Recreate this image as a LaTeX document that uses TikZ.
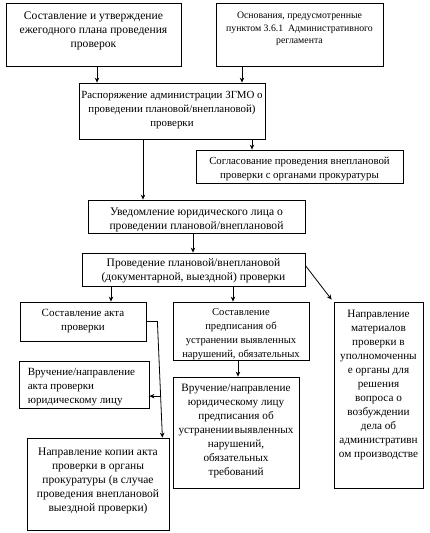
\documentclass[tikz,border=0pt]{standalone}
\usepackage{fontspec}
\setmainfont{Liberation Serif}
\usetikzlibrary{fit,calc,arrows.meta}
\newcommand\fs[1]{\fontsize{#1}{14}\selectfont}
\tikzset{
  box/.style={draw, line width=0.8pt, inner sep=0pt},
  txt/.style={inner sep=0pt, align=center, font=\fs{11.1}},
  txts/.style={inner sep=0pt, align=center, font=\fontsize{9.8}{12.5}\selectfont},
  ln/.style={line width=0.8pt},
  arr/.style={line width=0.8pt, -{Stealth[length=5pt,width=4.5pt]}}
}
\begin{document}
\begin{tikzpicture}[x=1pt,y=-1pt]
\useasboundingbox (0,0) rectangle (429,533);
% boxes
\node[box, fit={(6,3) (181,66)}] (b1) {};
\node[box, fit={(216,3) (383,66)}] (b2) {};
\node[box, fit={(79,83) (265,139)}] (b3) {};
\node[box, fit={(196,150) (403,183)}] (b4) {};
\node[box, fit={(88,200) (305,233)}] (b5) {};
\node[box, fit={(82,253) (305,286)}] (b6) {};
\node[box, fit={(20,302) (146,341)}] (b7) {};
\node[box, fit={(173,302) (309,360)}] (b8) {};
\node[box, fit={(334,302) (423,488)}] (b9) {};
\node[box, fit={(19,361) (149,408)}] (b10) {};
\node[box, fit={(27,438) (169,530)}] (b11) {};
\node[box, fit={(173,377) (299,488)}] (b12) {};
% texts
\node[txt, font=\fs{11.6}, anchor=north] (t1) at ($(b1.north)+(0,9.5)$) {Составление и утверждение\\ежегодного плана проведения\\проверок};
\node[txts, anchor=north] (t2) at ($(b2.north)+(0,9.5)$) {Основания, предусмотренные\\пунктом 3.6.1~ Административного\\регламента};
\node[txt, font=\fs{10.9}, anchor=north] (t3) at ($(b3.north)+(0,8.5)$) {Распоряжение администрации ЗГМО о\\проведении плановой/внеплановой)\\проверки};
\node[txt, font=\fs{10.8}, anchor=north] (t4) at ($(b4.north)+(0,7.5)$) {Согласование проведения внеплановой\\проверки с органами прокуратуры};
\node[txt, font=\fs{11.6}, anchor=north] (t5) at ($(b5.north)+(0,8.5)$) {Уведомление юридического лица о\\проведении плановой/внеплановой};
\node[txt, font=\fs{11.5}, anchor=north] (t6) at ($(b6.north)+(0,6)$) {Проведение плановой/внеплановой\\(документарной, выездной) проверки};
\node[txt, font=\fs{11}, anchor=north] (t7) at ($(b7.north)+(0,7.5)$) {Составление акта\\проверки};
\node[txt, font=\fs{10.6}, anchor=north] (t8) at ($(b8.north)+(0,7)$) {Составление\\предписания об\\устранении выявленных\\нарушений, обязательных};
\node[txt, font=\fs{11.2}, anchor=north] (t9) at ($(b9.north)+(0,8)$) {Направление\\материалов\\проверки в\\уполномоченны\\е органы для\\решения\\вопроса о\\возбуждении\\дела об\\административн\\ом производстве};
\node[txt, font=\fs{11}, anchor=north west, align=left] (t10) at ($(b10.north west)+(9,7.5)$) {Вручение/направление\\акта проверки\\юридическому лицу};
\node[txt, font=\fs{11.5}, anchor=north] (t11) at ($(b11.north)+(0,10)$) {Направление копии акта\\проверки в органы\\прокуратуры (в случае\\проведения внеплановой\\выездной проверки)};
\node[txt, font=\fs{11.2}, anchor=north] (t12) at ($(b12.north)+(0,7.5)$) {Вручение/направление\\юридическому лицу\\предписания об\\устранении\hspace{1pt}выявленных\\нарушений,\\обязательных\\требований};
% connectors
\draw[arr] ([xshift=3.5pt]b1.south) -- ([xshift=3.5pt]b1.south |- b3.north);
\draw[arr] ([xshift=-57.5pt]b2.south) -- ([xshift=-57.5pt]b2.south |- b3.north);
\draw[arr] ([xshift=-29pt]b3.south) -- ([xshift=-29pt]b3.south |- b5.north);
\draw[arr] ([xshift=80pt]b3.south) -- ([xshift=80pt]b3.south |- b4.north);
\draw[arr] ([xshift=-3.5pt]b5.south) -- ([xshift=-3.5pt]b5.south |- b6.north);
\draw[arr] ([xshift=28pt]b7.north |- b6.south) -- ([xshift=28pt]b7.north);
\draw[arr] ([xshift=-8pt]b8.north |- b6.south) -- ([xshift=-8pt]b8.north);
\draw[arr] ([yshift=4pt]b6.east) -- ([xshift=-2pt,yshift=2pt]b9.north west);
\coordinate (k) at ($(b7.east)+(11,0)$);
\coordinate (k2) at ($(b11.north east)+(-7,0)$);
\draw[arr] (b7.east) -- (k) -- (k2);
\coordinate (j) at ($(k)!0.643!(k2)$);
\draw[arr] (j) -- (j -| b10.east);
\draw[arr] ([xshift=-3pt]b8.south) -- ([xshift=-3pt]b8.south |- b12.north);
\end{tikzpicture}
\end{document}
